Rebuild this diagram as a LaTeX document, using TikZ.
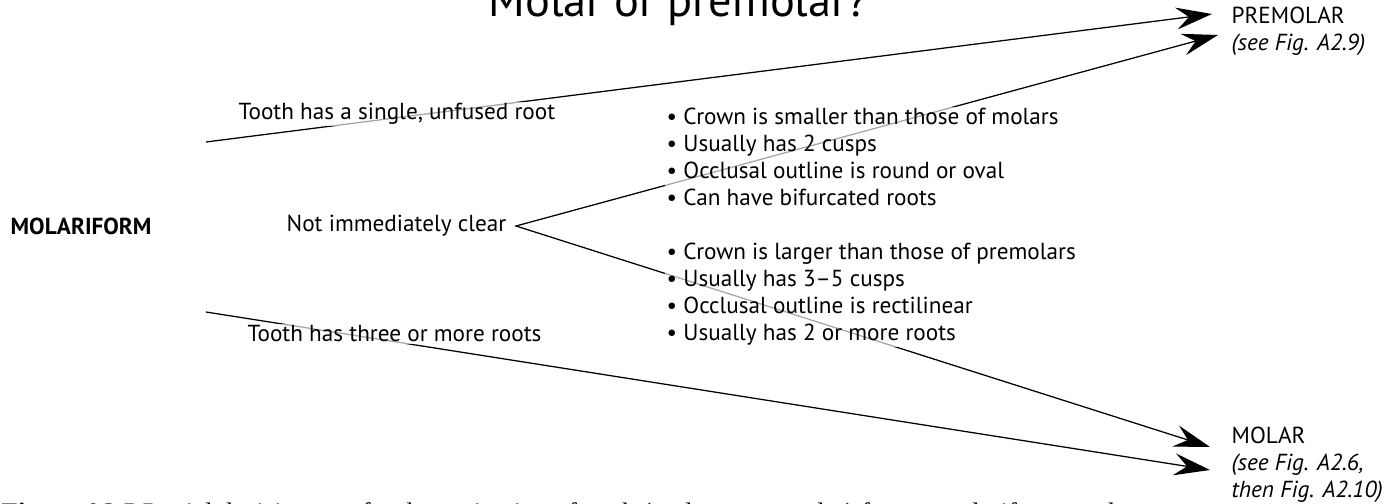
\documentclass[tikz,border=0pt]{standalone}
\usepackage{fontspec}
\setmainfont{PT Sans}
\newfontfamily\capfont{Liberation Serif}
\usetikzlibrary{arrows.meta,backgrounds}

\begin{document}
\begin{tikzpicture}[x=0.025cm, y=-0.025cm,
    >={Stealth[length=0.9cm, width=0.55cm, inset=0.32cm]},
    every node/.style={inner sep=1pt, font=\fontsize{16.5pt}{19.2pt}\selectfont},
    txt/.style={fill=white, fill opacity=0.65, text opacity=1, align=left},
    arr/.style={line width=0.9pt, line join=miter, ->},
    arrboth/.style={line width=0.9pt, line join=miter, <->}
]
    \useasboundingbox (0,0) rectangle (1398,504);
    \clip (0,0) rectangle (1398,504);

    \node[anchor=base, font=\fontsize{33pt}{38pt}\selectfont] (title) at (678,17) {Molar or premolar?};

    \node[anchor=west, font=\bfseries\fontsize{16.5pt}{19.2pt}\selectfont] (molariform) at (9,226) {MOLARIFORM};
    \node[txt, anchor=west] (single) at (237,114) {Tooth has a single, unfused root};
    \node[txt, anchor=west] (unclear) at (285,226) {Not immediately clear};
    \node[txt, anchor=west] (three) at (246,334) {Tooth has three or more roots};

    \node[txt, anchor=west] (pmtraits) at (665,157) {\textbullet\ Crown is smaller than those of molars\\
        \textbullet\ Usually has 2 cusps\\
        \textbullet\ Occlusal outline is round or oval\\
        \textbullet\ Can have bifurcated roots};
    \node[txt, anchor=west] (mtraits) at (665,294) {\textbullet\ Crown is larger than those of premolars\\
        \textbullet\ Usually has 3--5 cusps\\
        \textbullet\ Occlusal outline is rectilinear\\
        \textbullet\ Usually has 2 or more roots};

    \node[anchor=west, align=left] (premolar) at (1230,31) {PREMOLAR\\\textit{(see Fig. A2.9)}};
    \node[anchor=west, align=left] (molar) at (1230,465) {MOLAR\\\textit{(see Fig. A2.6,}\\\textit{then Fig. A2.10)}};

    \node[anchor=base west, font=\capfont\fontsize{19pt}{22pt}\selectfont] (caption) at (0,521)
        {\textbf{Figure A2.5} Partial decision tree for determination of teeth (molar or premolar) from a molariform tooth};

    % arrow ends
    \coordinate (rootA) at (206,142);
    \coordinate (rootB) at (206,312);
    \coordinate (fork) at (516,226);
    \coordinate (pmTipA) at (1212,14);
    \coordinate (pmTipB) at (1218,35);
    \coordinate (mTipA) at (1210,447);
    \coordinate (mTipB) at (1210,470);

    \begin{scope}[on background layer]
        \draw[arr] (rootA) -- (pmTipA);
        \draw[arrboth] (pmTipB) -- (fork) -- (mTipA);
        \draw[arr] (rootB) -- (mTipB);
    \end{scope}
\end{tikzpicture}
\end{document}
